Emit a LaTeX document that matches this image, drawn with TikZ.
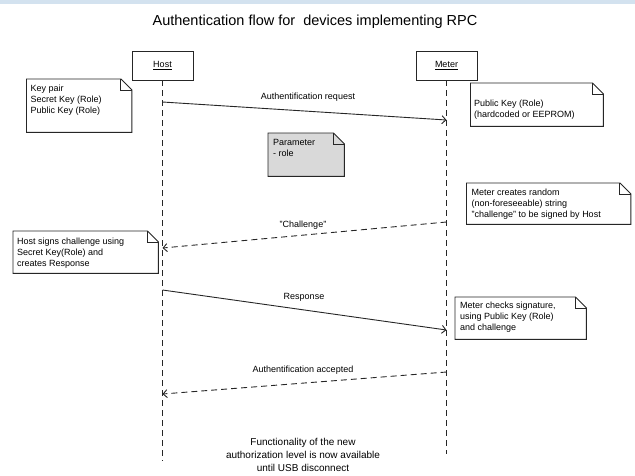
\documentclass[tikz,border=0pt]{standalone}
\usepackage{fontspec}
\setmainfont{Liberation Sans}
\usetikzlibrary{arrows.meta}
\definecolor{linegray}{HTML}{262626}
\definecolor{notegray}{HTML}{D9D9D9}
\definecolor{topblue}{HTML}{D3E2EF}
\newcommand{\dogear}[2]{%
  \draw[noteline, fill=#2] (#1.north west) -- ([xshift=-11pt]#1.north east)
    -- ([yshift=-11pt]#1.north east) -- (#1.south east) -- (#1.south west) -- cycle;
  \draw[noteline] ([xshift=-11pt]#1.north east) -- ([xshift=-11pt,yshift=-11pt]#1.north east)
    -- ([yshift=-11pt]#1.north east);
}
\begin{document}
\begin{tikzpicture}[x=1pt,y=-1pt,
  every node/.style={inner sep=0pt, font=\fontsize{9}{11}\selectfont},
  lifebox/.style={draw=linegray, line width=0.9pt, minimum width=61pt, minimum height=29pt, fill=white},
  lifeline/.style={draw=linegray, line width=0.9pt, dash pattern=on 6pt off 4pt},
  notebox/.style n args={2}{anchor=north west, minimum width=#1pt, minimum height=#2pt},
  noteline/.style={draw=linegray, line width=0.9pt},
  notetext/.style={anchor=north west, align=left},
  msg/.style={draw=linegray, line width=0.9pt, -{Straight Barb[length=4pt,width=8pt]}},
  reply/.style={msg, dash pattern=on 6pt off 4pt},
  msglabel/.style={font=\fontsize{9}{11}\selectfont},
]
\useasboundingbox (0,0) rectangle (635,475);
\fill[topblue] (0,0) rectangle (635,3.5);

% title
\node[font=\fontsize{14.5}{16}\selectfont] (title) at (315,22) {Authentication flow for\ \ devices implementing RPC};

% lifeline heads
\node[lifebox] (host) at (162.5,65.5) {\underline{Host}};
\node[lifebox] (meter) at (446.5,65.5) {\underline{Meter}};
\coordinate (hend) at (162.5,461);
\coordinate (mend) at (446.5,454);
\draw[lifeline] (host) -- (hend);
\draw[lifeline] (meter) -- (mend);

% notes
\node[notebox={105}{53}] (kp) at (26.5,79) {};
\dogear{kp}{white}
\node[notetext] (kpt) at ([xshift=4pt,yshift=-5.5pt]kp.north west) {Key pair\\Secret Key (Role)\\Public Key (Role)};

\node[notebox={132.5}{43}] (pk) at (470.5,83) {};
\dogear{pk}{white}
\node[notetext] (pkt) at ([xshift=3.5pt,yshift=-16.5pt]pk.north west) {Public Key (Role)\\(hardcoded or EEPROM)};

\node[notebox={76}{43}] (par) at (268,133) {};
\dogear{par}{notegray}
\node[notetext] (part) at ([xshift=5pt,yshift=-6.5pt]par.north west) {Parameter\\- role};

\node[notebox={164}{41}] (mc) at (466.5,183) {};
\dogear{mc}{white}
\node[notetext] (mct) at ([xshift=5pt,yshift=-5.5pt]mc.north west) {Meter creates random\\(non-foreseeable) string\\"challenge" to be signed by Host};

\node[notebox={145}{42}] (hs) at (13,231) {};
\dogear{hs}{white}
\node[notetext] (hst) at ([xshift=4pt,yshift=-6.5pt]hs.north west) {Host signs challenge using\\Secret Key(Role) and\\creates Response};

\node[notebox={131}{42}] (mk) at (455,297) {};
\dogear{mk}{white}
\node[notetext] (mkt) at ([xshift=5pt,yshift=-4.5pt]mk.north west) {Meter checks signature,\\using Public Key (Role)\\and challenge};

% messages
\coordinate (h1) at (162.5,102);
\coordinate (m1) at (446.5,120);
\coordinate (m2) at (446.5,222);
\coordinate (h2) at (162.5,248);
\coordinate (h3) at (162.5,290);
\coordinate (m3) at (446.5,330);
\coordinate (m4) at (446.5,372);
\coordinate (h4) at (162.5,394);

\draw[msg] (h1) -- (m1);
\node[msglabel] (l1) at (308,97) {Authentification request};
\draw[reply] (m2) -- (h2);
\node[msglabel] (l2) at (303,225) {"Challenge"};
\draw[msg] (h3) -- (m3);
\node[msglabel] (l3) at (304,297) {Response};
\draw[reply] (m4) -- (h4);
\node[msglabel] (l4) at (303,370) {Authentification accepted};

% bottom text
\node[align=center, font=\fontsize{10}{13}\selectfont] (fin) at (303,455) {Functionality of the new\\authorization level is now available\\until USB disconnect};
\end{tikzpicture}
\end{document}
